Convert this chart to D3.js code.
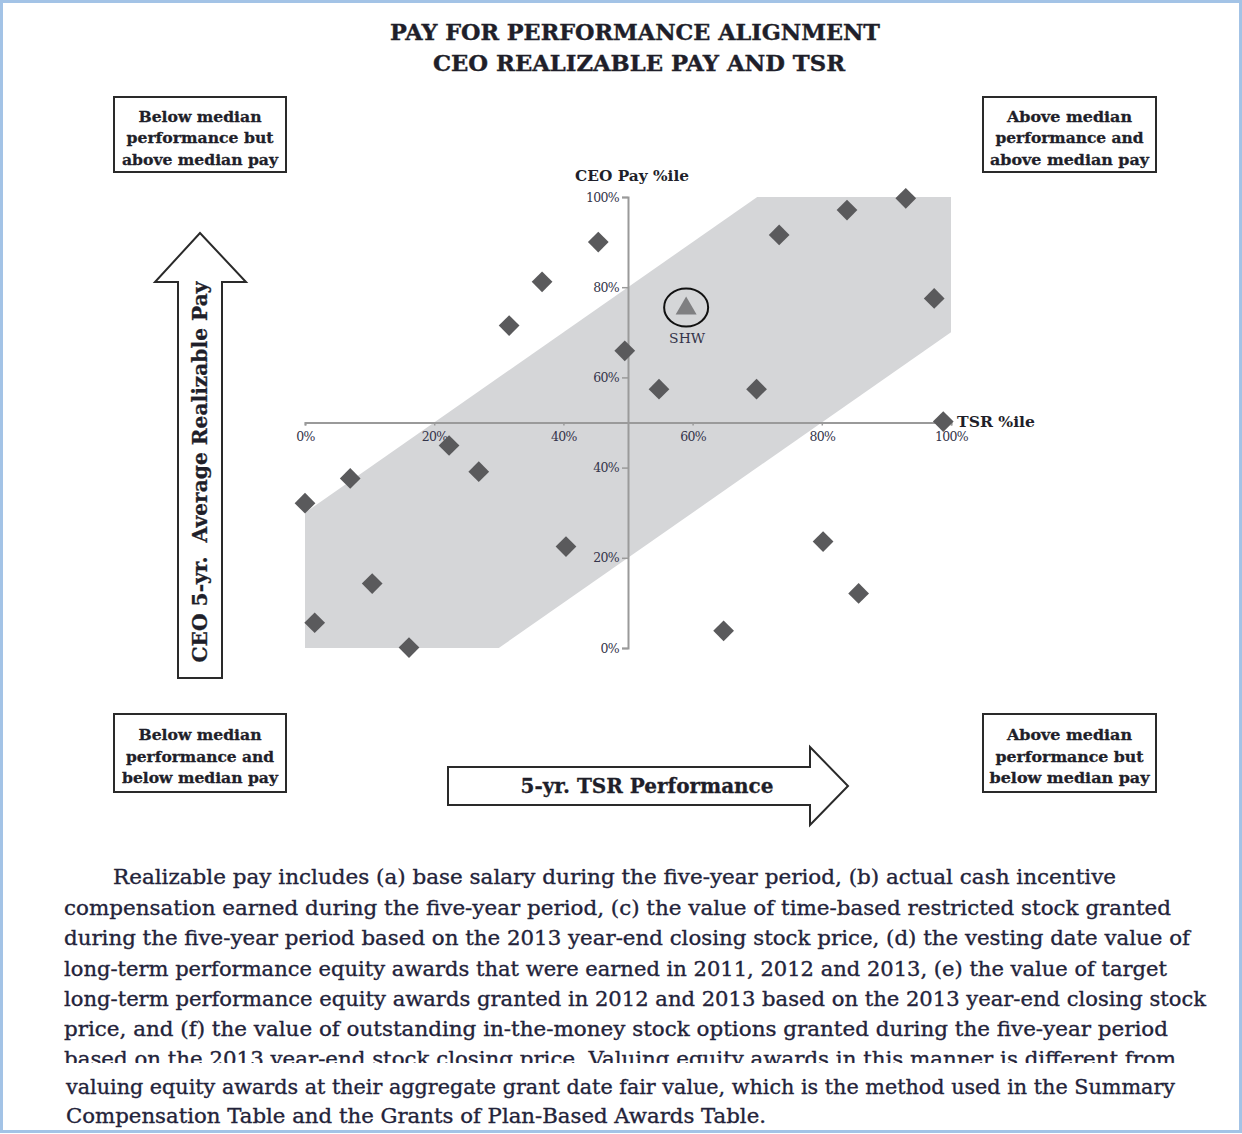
<!DOCTYPE html>
<html>
<head>
<meta charset="utf-8">
<script src="https://cdn.jsdelivr.net/npm/d3@7"></script>
<style>
  html, body { margin: 0; padding: 0; background: #fff; }
  svg { display: block; }
</style>
</head>
<body>
<svg id="chart" width="1242" height="1134"></svg>
<script>
// ---------------- DATA ----------------
const titleLines = ["PAY FOR PERFORMANCE ALIGNMENT", "CEO REALIZABLE PAY AND TSR"];
const tickValues = [0, 20, 40, 60, 80, 100];
const tickLabels = ["0%", "20%", "40%", "60%", "80%", "100%"];
const xAxisTitle = "TSR %ile";
const yAxisTitle = "CEO Pay %ile";

// peer companies: 5-yr TSR percentile and CEO realizable pay percentile
const peerTSR = [45.4, 36.7, 31.6, 49.5, 54.8, 22.3, 73.4, 83.9, 93.0, 97.4, 69.9, 98.8, 26.9, 7.0, 0.0, 40.4, 10.4, 1.5, 16.1, 80.2, 85.7, 64.8];
const peerPay = [90.0, 81.2, 71.5, 65.9, 57.4, 44.9, 91.6, 97.1, 99.7, 77.5, 57.4, 50.2, 39.1, 37.6, 32.1, 22.5, 14.3, 5.6, 0.1, 23.6, 12.1, 3.8];

// company of interest
const focusName = "SHW";
const focusTSR = 59;
const focusPay = 75.5;

// alignment band (TSR %ile, Pay %ile) vertices
const bandTSR = [0, 0, 70, 100, 100, 30];
const bandPay = [0, 30, 100, 100, 70, 0];

const quadrantLabels = [
  ["Below median", "performance but", "above median pay"],
  ["Above median", "performance and", "above median pay"],
  ["Below median", "performance and", "below median pay"],
  ["Above median", "performance but", "below median pay"]
];
const upArrowLabel = "CEO 5-yr.  Average Realizable Pay";
const rightArrowLabel = "5-yr. TSR Performance";

const paragraphLines = [
  "Realizable pay includes (a) base salary during the five-year period, (b) actual cash incentive",
  "compensation earned during the five-year period, (c) the value of time-based restricted stock granted",
  "during the five-year period based on the 2013 year-end closing stock price, (d) the vesting date value of",
  "long-term performance equity awards that were earned in 2011, 2012 and 2013, (e) the value of target",
  "long-term performance equity awards granted in 2012 and 2013 based on the 2013 year-end closing stock",
  "price, and (f) the value of outstanding in-the-money stock options granted during the five-year period",
  "based on the 2013 year-end stock closing price. Valuing equity awards in this manner is different from",
  "valuing equity awards at their aggregate grant date fair value, which is the method used in the Summary",
  "Compensation Table and the Grants of Plan-Based Awards Table."
];

// ---------------- LAYOUT ----------------
const W = 1242, H = 1134;
const SERIF = "'DejaVu Serif', 'Liberation Serif', serif";
const TEXT = "#1f1f2a";

const svg = d3.select("#chart");

svg.append("rect").attr("x", 0).attr("y", 0).attr("width", W).attr("height", H).attr("fill", "#fff");

function fitText(sel, width) {
  sel.attr("textLength", width).attr("lengthAdjust", "spacingAndGlyphs");
  return sel;
}

// Title
const titleSpec = [{cx: 635, y: 40, w: 490}, {cx: 639, y: 71, w: 412}];
titleLines.forEach((t, i) => {
  fitText(svg.append("text")
    .attr("x", titleSpec[i].cx).attr("y", titleSpec[i].y)
    .attr("text-anchor", "middle")
    .attr("font-family", SERIF).attr("font-weight", "bold")
    .attr("font-size", 21.5).attr("fill", TEXT)
    .attr("stroke", TEXT).attr("stroke-width", 0.4)
    .text(t), titleSpec[i].w);
});

// Scales
const x = d3.scaleLinear().domain([0, 100]).range([305, 951]);
const y = d3.scaleLinear().domain([0, 100]).range([648, 197]);

// Band
const bandPts = bandTSR.map((v, i) => [x(v), y(bandPay[i])]);
svg.append("path")
  .attr("d", d3.line()(bandPts) + "Z")
  .attr("fill", "#d5d6d8");

// Axes crossing at the medians
const axisColor = "#9a9a9a";
const xAxisG = svg.append("g")
  .attr("transform", `translate(0,${y(50)})`)
  .call(d3.axisBottom(x).tickValues(tickValues).tickFormat((d, i) => tickLabels[i]).tickSize(3).tickSizeOuter(3).tickPadding(7));
const yAxisG = svg.append("g")
  .attr("transform", `translate(${x(50)},0)`)
  .call(d3.axisLeft(y).tickValues(tickValues).tickFormat((d, i) => tickLabels[i]).tickSize(6).tickPadding(3));

[xAxisG, yAxisG].forEach(g => {
  g.select(".domain").attr("stroke", axisColor).attr("stroke-width", 2);
  g.selectAll(".tick line").attr("stroke", axisColor).attr("stroke-width", 1.5);
  g.selectAll(".tick text")
    .attr("font-family", SERIF).attr("font-size", 12.5)
    .attr("fill", "#34344a").attr("letter-spacing", -0.7);
});

// Axis titles
fitText(svg.append("text")
  .attr("x", x(50) + 4).attr("y", y(100) - 16)
  .attr("text-anchor", "middle")
  .attr("font-family", SERIF).attr("font-weight", "bold").attr("font-size", 14)
  .attr("fill", TEXT)
  .text(yAxisTitle), 114);
fitText(svg.append("text")
  .attr("x", x(100) + 6).attr("y", y(50) + 4)
  .attr("text-anchor", "start")
  .attr("font-family", SERIF).attr("font-weight", "bold").attr("font-size", 14)
  .attr("fill", TEXT)
  .text(xAxisTitle), 78);

// Peer diamonds
const diamond = d3.symbol().type(d3.symbolSquare).size(215);
svg.append("g").selectAll("path")
  .data(peerTSR.map((t, i) => ({t, p: peerPay[i]})))
  .join("path")
  .attr("d", diamond)
  .attr("transform", d => `translate(${x(d.t)},${y(d.p)}) rotate(45)`)
  .attr("fill", "#5a5a5c");

// Focus company
const fx = x(focusTSR), fy = y(focusPay);
svg.append("ellipse")
  .attr("cx", fx).attr("cy", fy)
  .attr("rx", 22).attr("ry", 19)
  .attr("fill", "none").attr("stroke", "#111").attr("stroke-width", 2);
svg.append("path")
  .attr("d", d3.symbol().type(d3.symbolTriangle).size(190))
  .attr("transform", `translate(${fx},${fy + 1})`)
  .attr("fill", "#7f7f81");
fitText(svg.append("text")
  .attr("x", fx + 1).attr("y", fy + 36)
  .attr("text-anchor", "middle")
  .attr("font-family", SERIF).attr("font-size", 13.5)
  .attr("fill", "#34344a")
  .text(focusName), 36);

// Quadrant boxes
const boxSpec = [
  {x: 114, y: 97, w: 172, h: 75},
  {x: 983, y: 97, w: 173, h: 75},
  {x: 114, y: 714, w: 172, h: 78},
  {x: 983, y: 714, w: 173, h: 78}
];
const lineWidths = [[123, 147, 156], [125, 148, 159], [123, 148, 156], [125, 148, 160]];
quadrantLabels.forEach((lines, i) => {
  const b = boxSpec[i];
  svg.append("rect")
    .attr("x", b.x).attr("y", b.y).attr("width", b.w).attr("height", b.h)
    .attr("fill", "#fff").attr("stroke", "#2a2a2a").attr("stroke-width", 2);
  const top = b.y + (b.h - 64) / 2;
  lines.forEach((l, j) => {
    fitText(svg.append("text")
      .attr("x", b.x + b.w / 2).attr("y", top + 19 + j * 21.5)
      .attr("text-anchor", "middle")
      .attr("font-family", SERIF).attr("font-weight", "bold").attr("font-size", 15)
      .attr("fill", TEXT).attr("stroke", TEXT).attr("stroke-width", 0.3)
      .text(l), lineWidths[i][j]);
  });
});

// Up arrow
const upArrow = [[178, 678], [178, 282], [155, 282], [200, 233], [246, 282], [222, 282], [222, 678]];
svg.append("path")
  .attr("d", d3.line()(upArrow) + "Z")
  .attr("fill", "#fff").attr("stroke", "#2a2a2a").attr("stroke-width", 2);
fitText(svg.append("text")
  .attr("transform", "translate(207,472) rotate(-90)")
  .attr("text-anchor", "middle")
  .attr("font-family", SERIF).attr("font-weight", "bold").attr("font-size", 19.5)
  .attr("fill", TEXT).attr("stroke", TEXT).attr("stroke-width", 0.3)
  .attr("xml:space", "preserve")
  .text(upArrowLabel), 381);

// Right arrow
const rightArrow = [[448, 767], [810, 767], [810, 747], [848, 786], [810, 825], [810, 805], [448, 805]];
svg.append("path")
  .attr("d", d3.line()(rightArrow) + "Z")
  .attr("fill", "#fff").attr("stroke", "#2a2a2a").attr("stroke-width", 2);
fitText(svg.append("text")
  .attr("x", 647).attr("y", 793)
  .attr("text-anchor", "middle")
  .attr("font-family", SERIF).attr("font-weight", "bold").attr("font-size", 21)
  .attr("fill", TEXT).attr("stroke", TEXT).attr("stroke-width", 0.3)
  .text(rightArrowLabel), 253);

// Paragraph
const defs = svg.append("defs");
defs.append("clipPath").attr("id", "cut")
  .append("rect").attr("x", 0).attr("y", 0).attr("width", W).attr("height", 1063);
const paraSpec = [
  {x: 113, w: 1003, y: 884},
  {x: 64, w: 1107, y: 915},
  {x: 64, w: 1126, y: 945},
  {x: 64, w: 1103, y: 976},
  {x: 64, w: 1142, y: 1006},
  {x: 64, w: 1104, y: 1036},
  {x: 64, w: 1112, y: 1066, clip: true},
  {x: 66, w: 1109, y: 1094},
  {x: 66, w: 700, y: 1123}
];
paragraphLines.forEach((l, i) => {
  const s = paraSpec[i];
  const t = svg.append("text")
    .attr("x", s.x).attr("y", s.y)
    .attr("font-family", SERIF).attr("font-size", 21)
    .attr("fill", "#23233a").attr("stroke", "#23233a").attr("stroke-width", 0.35)
    .text(l);
  fitText(t, s.w);
  if (s.clip) t.attr("clip-path", "url(#cut)");
});

// Page border
svg.append("rect")
  .attr("x", 1.5).attr("y", 1.5).attr("width", W - 3).attr("height", H - 4)
  .attr("fill", "none").attr("stroke", "#a3c3e6").attr("stroke-width", 3);
</script>
</body>
</html>
